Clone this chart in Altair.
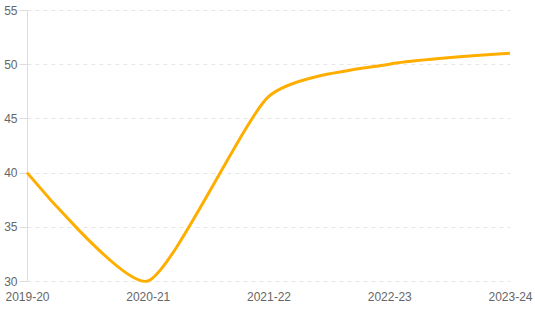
import altair as alt
import pandas as pd

years = ["2019-20", "2020-21", "2021-22", "2022-23", "2023-24"]
values = [40, 30, 47, 50, 51]

df = pd.DataFrame({"year": years, "value": values})

chart = alt.Chart(df).mark_line(
    color="#FFAE00", strokeWidth=3, interpolate="cardinal", tension=0.4
).encode(
    x=alt.X("year:N", sort=years, title=None,
            scale=alt.Scale(type="point", padding=0),
            axis=alt.Axis(labelAngle=0, domain=False, ticks=False, grid=False,
                          labelPadding=10, labelFontSize=12, labelColor="#666",
                          labelFont="Liberation Sans")),
    y=alt.Y("value:Q", title=None,
            scale=alt.Scale(domain=[30, 55], nice=False, zero=False),
            axis=alt.Axis(values=[30, 35, 40, 45, 50, 55], domain=True, domainColor="#ddd",
                          ticks=True, tickColor="#ddd", tickSize=8,
                          grid=True, gridColor="#e6e6e6", gridDash=[4, 4],
                          labelPadding=2, labelFontSize=12, labelColor="#666",
                          labelFont="Liberation Sans"))
).properties(
    width=483, height=271,
    autosize=alt.AutoSizeParams(type="none"),
    padding={"left": 27, "top": 10, "right": 25, "bottom": 29}
).configure_view(stroke=None)

chart.save("out.html", embed_options={"renderer": "svg", "actions": False})
